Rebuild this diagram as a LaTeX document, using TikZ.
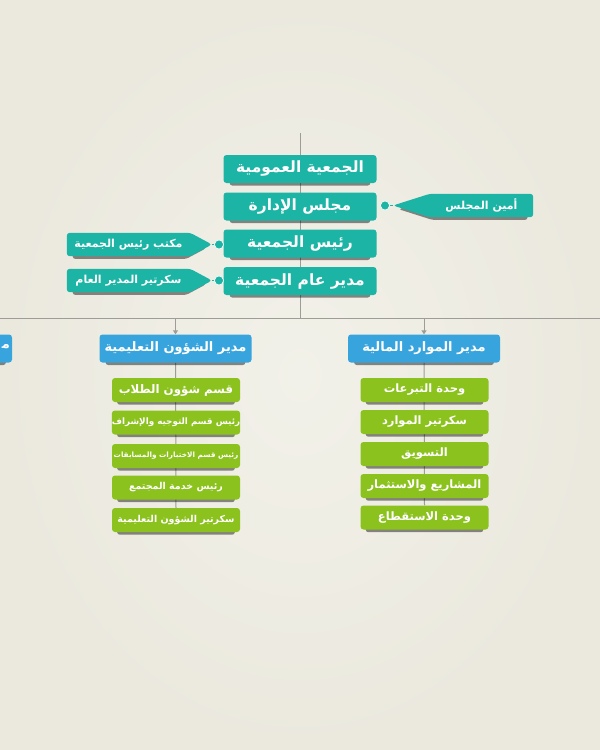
\documentclass[tikz,border=0pt]{standalone}
\usepackage{fontspec}
\newfontfamily\arabicfont[Script=Arabic]{DejaVu Sans}
\TeXXeTstate=1
\usetikzlibrary{shadows,arrows.meta}
\definecolor{bgc}{HTML}{EBE9DE}
\definecolor{bgl}{HTML}{F2F1E9}
\definecolor{tealc}{HTML}{1CB4A5}
\definecolor{bluec}{HTML}{38A4DE}
\definecolor{greenc}{HTML}{8CC21E}
\definecolor{linec}{HTML}{9E9C96}
\newcommand\artxt[1]{\beginR #1\endR}
\pgfdeclarelayer{bg}
\pgfdeclarelayer{mid}
\pgfsetlayers{bg,mid,main}
\begin{document}
\begin{tikzpicture}[x=1pt,y=-1pt,
  lift/.style={drop shadow={shadow xshift=0pt,shadow yshift=-4pt,shadow scale=0.92,opacity=0.45,fill=black}},
  boxbase/.style={rounded corners=3pt,text=white,inner sep=0pt,align=center,lift},
  topbox/.style={boxbase,fill=tealc,minimum width=153,minimum height=28,font=\arabicfont\bfseries\fontsize{15.5}{17}\selectfont},
  bluebox/.style={boxbase,fill=bluec,minimum width=152,minimum height=28,font=\arabicfont\bfseries\fontsize{13}{15}\selectfont},
  greenbox/.style={boxbase,fill=greenc,minimum width=128,minimum height=24,font=\arabicfont\bfseries\fontsize{11.5}{13}\selectfont},
  labtext/.style={text=white,inner sep=0pt,minimum height=23,font=\arabicfont\bfseries\fontsize{11}{13}\selectfont},
  labfill/.style={fill=tealc,rounded corners=3pt,lift},
  dot/.style={circle,fill=tealc,draw=white,line width=0.6pt,inner sep=0pt,minimum size=9},
  conn/.style={draw=linec,line width=1pt},
  arr/.style={conn,-{Triangle[width=5pt,length=4pt]}}
]
\useasboundingbox (0,0) rectangle (600,750);
\begin{pgfonlayer}{bg}
\shade[inner color=bgl,outer color=bgc] (0,0) rectangle (600,750);
\end{pgfonlayer}

% top boxes
\node[topbox] (t1) at (300,169) {\artxt{الجمعية العمومية}};
\node[topbox] (t2) at (300,206.5) {\artxt{مجلس الإدارة}};
\node[topbox] (t3) at (300,243.5) {\artxt{رئيس الجمعية}};
\node[topbox] (t4) at (300,281) {\artxt{مدير عام الجمعية}};

% side labels
\node[labtext,minimum width=103] (l1) at (481.5,205.5) {\artxt{أمين المجلس}};
\coordinate (tip1) at (393,205.5);
\node[dot] (d1) at (385,205.5) {};
\node[labtext,minimum width=123] (l2) at (128.5,244.5) {\artxt{مكتب رئيس الجمعية}};
\coordinate (tip2) at (212,244.5);
\node[dot] (d2) at (219,244.5) {};
\node[labtext,minimum width=123] (l3) at (128.5,280.5) {\artxt{سكرتير المدير العام}};
\coordinate (tip3) at (212,280.5);
\node[dot] (d3) at (219,280.5) {};

\begin{pgfonlayer}{mid}
\path[labfill] (tip1) -- (l1.north west) -- (l1.north east) -- (l1.south east) -- (l1.south west) -- cycle;
\path[labfill] (tip2) -- (l2.north east) -- (l2.north west) -- (l2.south west) -- (l2.south east) -- cycle;
\path[labfill] (tip3) -- (l3.north east) -- (l3.north west) -- (l3.south west) -- (l3.south east) -- cycle;
\end{pgfonlayer}

% blue boxes
\node[bluebox] (b0) at (-64,348.5) {};
\node[text=white,inner sep=0pt,font=\arabicfont\bfseries\fontsize{13}{15}\selectfont,anchor=east] (b0t) at (10,347) {\artxt{م^^^^200d}};
\node[bluebox] (b1) at (175.5,348.5) {\artxt{مدير الشؤون التعليمية}};
\node[bluebox] (b2) at (424,348.5) {\artxt{مدير الموارد المالية}};

% green boxes left
\node[greenbox,font=\arabicfont\bfseries\fontsize{11.8}{14}\selectfont] (g1) at (176,390) {\artxt{قسم شؤون الطلاب}};
\node[greenbox,font=\arabicfont\bfseries\fontsize{8.8}{11}\selectfont] (g2) at (176,422.5) {\artxt{رئيس قسم التوجيه والإشراف}};
\node[greenbox,font=\arabicfont\bfseries\fontsize{7.3}{9}\selectfont] (g3) at (176,456) {\artxt{رئيس قسم الاختبارات والمسابقات}};
\node[greenbox,font=\arabicfont\bfseries\fontsize{9.5}{11}\selectfont] (g4) at (176,487.5) {\artxt{رئيس خدمة المجتمع}};
\node[greenbox,font=\arabicfont\bfseries\fontsize{9.5}{11}\selectfont] (g5) at (176,520) {\artxt{سكرتير الشؤون التعليمية}};

% green boxes right
\node[greenbox] (h1) at (424.5,390) {\artxt{وحدة التبرعات}};
\node[greenbox] (h2) at (424.5,422) {\artxt{سكرتير الموارد}};
\node[greenbox] (h3) at (424.5,454) {\artxt{التسويق}};
\node[greenbox] (h4) at (424.5,486) {\artxt{المشاريع والاستثمار}};
\node[greenbox] (h5) at (424.5,517.5) {\artxt{وحدة الاستقطاع}};

% connectors
\coordinate (top) at (300,133);
\coordinate (mid) at (300,318);
\coordinate (hl) at (0,318);
\coordinate (hr) at (600,318);
\coordinate (a1) at (b1.north |- mid);
\coordinate (a2) at (b2.north |- mid);
\begin{pgfonlayer}{bg}
\draw[conn] (top) -- (mid);
\draw[conn] (hl) -- (hr);
\draw[arr] (a1) -- (b1.north);
\draw[arr] (a2) -- (b2.north);
\draw[conn] (b1.south) -- (g5.north);
\draw[conn] (b2.south) -- (h5.north);
\draw[draw=tealc,line width=1pt] (d1) -- (tip1);
\draw[draw=tealc,line width=1pt] (d2) -- (tip2);
\draw[draw=tealc,line width=1pt] (d3) -- (tip3);
\end{pgfonlayer}
\end{tikzpicture}
\end{document}
